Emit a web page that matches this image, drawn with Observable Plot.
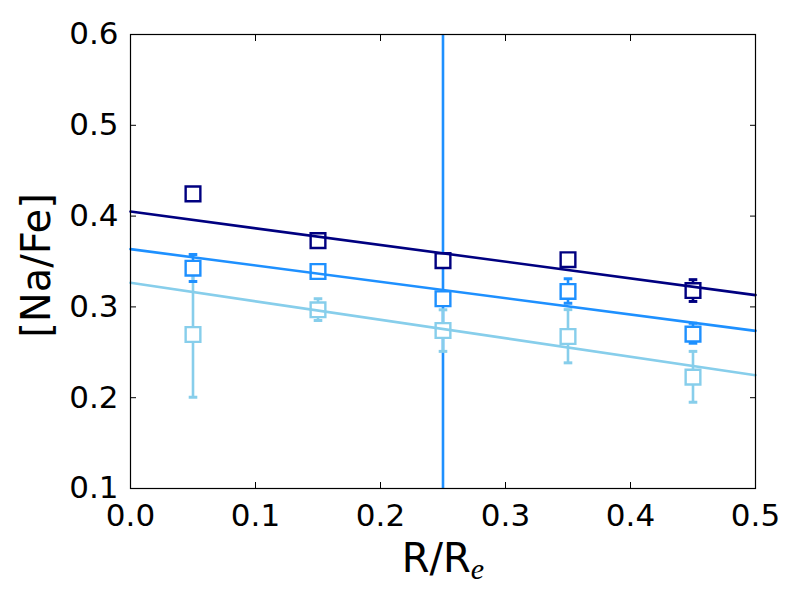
<!DOCTYPE html>
<html>
<head>
<meta charset="utf-8">
<script src="https://cdn.jsdelivr.net/npm/d3@7"></script>
<script src="https://cdn.jsdelivr.net/npm/@observablehq/plot@0.6"></script>
<style>
  html, body { margin: 0; padding: 0; background: #fff; }
  #chart { width: 800px; height: 600px; }
</style>
</head>
<body>
<div id="chart"></div>
<script>
// ---- data ----
const radius = [0.05, 0.15, 0.25, 0.35, 0.45];
const seriesNames = ["dark", "mid", "light"];
const seriesColors = ["#000080", "#1E90FF", "#87CEEB"];
const naFeDark  = [0.4245, 0.373, 0.351, 0.352, 0.318];
const naFeMid   = [0.3426, 0.339, 0.309, 0.317, 0.270];
const naFeLight = [0.2696, 0.2968, 0.274, 0.2674, 0.2226];
const errLoDark  = [0.419, 0.368, 0.346, 0.347, 0.306];
const errHiDark  = [0.430, 0.378, 0.356, 0.357, 0.330];
const errLoMid   = [0.328, 0.334, 0.304, 0.304, 0.260];
const errHiMid   = [0.3577, 0.344, 0.314, 0.331, 0.282];
const errLoLight = [0.2005, 0.285, 0.251, 0.2384, 0.195];
const errHiLight = [0.3365, 0.309, 0.2968, 0.297, 0.251];
const fitIntercept = [0.405, 0.3636, 0.3265];
const fitSlope = [-0.184, -0.180, -0.2034];
const verticalLineX = [0.25];
const xDomain = [0, 0.5];
const yDomain = [0.1, 0.6];
const xTicks = [0.0, 0.1, 0.2, 0.3, 0.4, 0.5];
const yTicks = [0.1, 0.2, 0.3, 0.4, 0.5, 0.6];
const xLabelMain = "R/R";
const xLabelSub = "e";
const yLabel = "[Na/Fe]";

// ---- build tables ----
const values = [naFeDark, naFeMid, naFeLight];
const lows = [errLoDark, errLoMid, errLoLight];
const highs = [errHiDark, errHiMid, errHiLight];
const points = [];
seriesNames.forEach((s, i) => {
  radius.forEach((r, j) => {
    points.push({series: s, color: seriesColors[i], r, v: values[i][j], lo: lows[i][j], hi: highs[i][j]});
  });
});
const fits = [];
seriesNames.forEach((s, i) => {
  xDomain.forEach(x => fits.push({series: s, color: seriesColors[i], x, y: fitIntercept[i] + fitSlope[i] * x}));
});

const capSymbol = {
  draw(ctx, size) {
    const r = Math.sqrt(size / Math.PI);
    ctx.moveTo(-r, 0);
    ctx.lineTo(r, 0);
  }
};

const fmt = d3.format(".1f");
const tickFont = 31;

const chart = Plot.plot({
  width: 800,
  height: 600,
  marginLeft: 130,
  marginRight: 45,
  marginTop: 34,
  marginBottom: 112,
  style: {fontFamily: "DejaVu Sans", fontSize: tickFont + "px", background: "#fff", color: "#000"},
  x: {domain: xDomain},
  y: {domain: yDomain},
  color: {type: "identity"},
  marks: [
    Plot.ruleX(verticalLineX, {x: d => d, stroke: seriesColors[1], strokeWidth: 2.6}),
    Plot.ruleX(points, {x: "r", y1: "lo", y2: "hi", stroke: "color", strokeWidth: 2.6}),
    Plot.dot(points, {x: "r", y: "lo", symbol: capSymbol, r: 4.3, stroke: "color", fill: "none", strokeWidth: 3}),
    Plot.dot(points, {x: "r", y: "hi", symbol: capSymbol, r: 4.3, stroke: "color", fill: "none", strokeWidth: 3}),
    Plot.dot(points, {x: "r", y: "v", symbol: "square", r: 8.3, stroke: "color", fill: "#fff", strokeWidth: 2.4}),
    Plot.line(fits, {x: "x", y: "y", z: "series", stroke: "color", strokeWidth: 2.6}),
    Plot.frame({stroke: "#000", strokeWidth: 1.2}),
    // tick labels
    Plot.axisX({anchor: "bottom", ticks: xTicks, tickSize: 0, tickPadding: 15, tickFormat: fmt, label: null, fontSize: tickFont}),
    Plot.axisY({anchor: "left", ticks: yTicks, tickSize: 0, tickPadding: 12, tickFormat: fmt, label: null, fontSize: tickFont}),
    // inward ticks on all four sides
    Plot.axisX({anchor: "bottom", ticks: xTicks, tickSize: 6, dy: -6, fill: "none", label: null}),
    Plot.axisX({anchor: "top", ticks: xTicks, tickSize: 6, dy: 6, fill: "none", label: null}),
    Plot.axisY({anchor: "left", ticks: yTicks, tickSize: 6, dx: 6, fill: "none", label: null}),
    Plot.axisY({anchor: "right", ticks: yTicks, tickSize: 6, dx: -6, fill: "none", label: null})
  ]
});

document.getElementById("chart").appendChild(chart);

// axis titles as real SVG text
const svg = d3.select(chart);
svg.append("text")
  .attr("transform", "translate(50,265.5) rotate(-90)")
  .attr("text-anchor", "middle")
  .attr("font-family", "DejaVu Sans")
  .attr("font-size", 40)
  .attr("fill", "#000")
  .text(yLabel);

const xl = svg.append("text")
  .attr("x", 443)
  .attr("y", 572)
  .attr("text-anchor", "middle")
  .attr("font-family", "DejaVu Sans")
  .attr("font-size", 40)
  .attr("fill", "#000");
xl.append("tspan").text(xLabelMain);
xl.append("tspan")
  .attr("dy", 7)
  .attr("font-family", "Liberation Serif")
  .attr("font-style", "italic")
  .attr("font-size", 30)
  .text(xLabelSub);
</script>
</body>
</html>
